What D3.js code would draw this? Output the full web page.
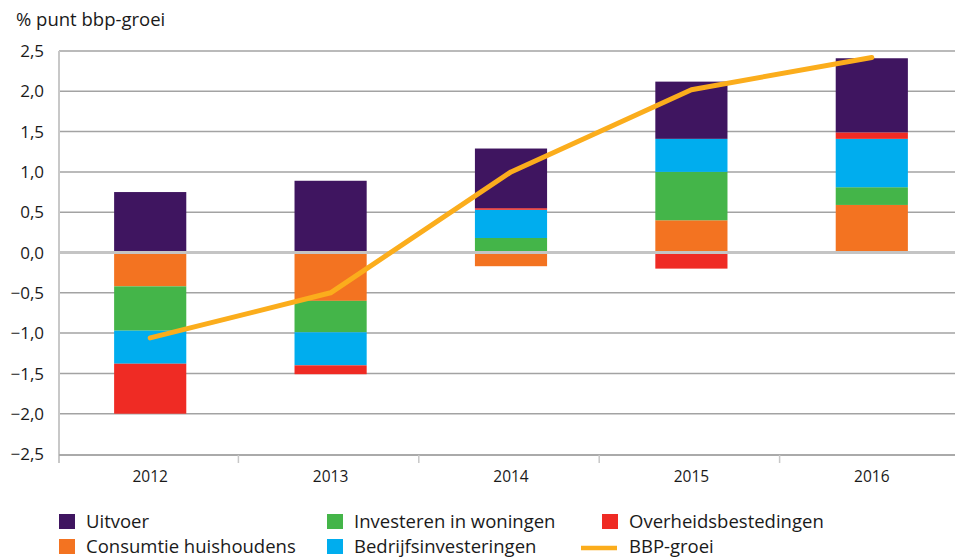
<!DOCTYPE html>
<html><head><meta charset="utf-8">
<script src="https://cdn.jsdelivr.net/npm/d3@7"></script>
<style>body{margin:0;background:#fff}svg{display:block;font-family:"Open Sans","Noto Sans",sans-serif}</style>
</head><body>
<svg id="chart" width="955" height="558"></svg>
<script>
const categories = ["2012","2013","2014","2015","2016"];
const uitvoer    = [0.75, 0.89, 0.74, 0.71, 0.92];
const consumptie = [-0.42, -0.60, -0.17, 0.40, 0.59];
const woningen   = [-0.55, -0.39, 0.18, 0.60, 0.22];
const bedrijfs   = [-0.41, -0.41, 0.35, 0.41, 0.60];
const overheid   = [-0.62, -0.11, 0.02, -0.20, 0.08];
const bbpGroei   = [-1.06, -0.50, 1.00, 2.02, 2.42];
const yTicks = [-2.5,-2,-1.5,-1,-0.5,0,0.5,1,1.5,2,2.5];

const series = [
  {key:"consumptie", name:"Consumtie huishoudens", values:consumptie, color:"#f37321"},
  {key:"woningen", name:"Investeren in woningen", values:woningen, color:"#44b549"},
  {key:"bedrijfs", name:"Bedrijfsinvesteringen", values:bedrijfs, color:"#00adee"},
  {key:"overheid", name:"Overheidsbestedingen", values:overheid, color:"#ef2b24"},
  {key:"uitvoer", name:"Uitvoer", values:uitvoer, color:"#3f1560"}
];
const lineColor = "#fbad1c";

const svg = d3.select("#chart");
const x = d3.scaleBand().domain(categories).range([60, 962]).padding(0);
const y = d3.scaleLinear().domain([-2.5, 2.5]).range([454, 51]);

const rows = categories.map((c,i)=>{const r={cat:c}; series.forEach(s=>r[s.key]=s.values[i]); return r;});
const stack = d3.stack().keys(series.map(s=>s.key)).offset(d3.stackOffsetDiverging)(rows);

// gridlines
svg.append("g").selectAll("line").data(yTicks.filter(t=>t!==0 && t!==-2.5)).join("line")
  .attr("x1",59).attr("x2",955).attr("y1",d=>y(d)).attr("y2",d=>y(d))
  .attr("stroke","#a3a3a3").attr("stroke-width",1.5);

// y labels
svg.append("g").selectAll("text").data(yTicks).join("text")
  .attr("x",44).attr("y",d=>y(d)).attr("dy","0.36em").attr("text-anchor","end")
  .attr("font-size",17).attr("fill","#1a1a1a")
  .text(d=>d3.format(".1f")(d).replace(".",","));

svg.append("text").attr("x",16).attr("y",26).attr("font-size",18.5).attr("fill","#1a1a1a").text("% punt bbp-groei");

// bars
const bw = x.bandwidth()*0.4;
series.forEach((s,si)=>{
  svg.append("g").selectAll("rect").data(stack[si]).join("rect")
    .attr("x",d=>x(d.data.cat)+x.bandwidth()/2-bw/2).attr("width",bw)
    .attr("y",d=>y(Math.max(d[0],d[1]))).attr("height",d=>Math.abs(y(d[0])-y(d[1])))
    .attr("fill",s.color);
});

// zero line
svg.append("line").attr("x1",59).attr("x2",955).attr("y1",y(0)).attr("y2",y(0))
  .attr("stroke","#c4c4c4").attr("stroke-width",3);

// axes
svg.append("line").attr("x1",59).attr("x2",59).attr("y1",y(2.5)).attr("y2",463)
  .attr("stroke","#c8c8c8").attr("stroke-width",2);
svg.append("line").attr("x1",59).attr("x2",955).attr("y1",y(-2.5)+1).attr("y2",y(-2.5)+1)
  .attr("stroke","#aaaaaa").attr("stroke-width",2);
svg.append("g").selectAll("line").data(categories.slice(1)).join("line")
  .attr("x1",d=>x(d)-2).attr("x2",d=>x(d)-2).attr("y1",455).attr("y2",463)
  .attr("stroke","#c8c8c8").attr("stroke-width",1.5);
svg.append("g").selectAll("text").data(categories).join("text")
  .attr("x",d=>x(d)+x.bandwidth()/2).attr("y",482).attr("text-anchor","middle")
  .attr("font-size",15.5).attr("fill","#1a1a1a").text(d=>d);

// line
const line = d3.line().x((d,i)=>x(categories[i])+x.bandwidth()/2).y(d=>y(d));
svg.append("path").datum(bbpGroei).attr("d",line).attr("fill","none")
  .attr("stroke",lineColor).attr("stroke-width",5).attr("stroke-linecap","round").attr("stroke-linejoin","round");

// legend
const legend = [
  {name:"Uitvoer", color:"#3f1560", x:59, y:514},
  {name:"Consumtie huishoudens", color:"#f37321", x:59, y:539},
  {name:"Investeren in woningen", color:"#44b549", x:327, y:514},
  {name:"Bedrijfsinvesteringen", color:"#00adee", x:327, y:539},
  {name:"Overheidsbestedingen", color:"#ef2b24", x:602, y:514},
  {name:"BBP-groei", color:lineColor, x:602, y:539, line:true}
];
const lg = svg.append("g").selectAll("g").data(legend).join("g");
lg.filter(d=>!d.line).append("rect").attr("x",d=>d.x).attr("y",d=>d.y).attr("width",16).attr("height",15).attr("fill",d=>d.color);
lg.filter(d=>d.line).append("line").attr("x1",581).attr("x2",617).attr("y1",d=>d.y+9).attr("y2",d=>d.y+9)
  .attr("stroke",d=>d.color).attr("stroke-width",4.5);
lg.append("text").attr("x",d=>d.x+27).attr("y",d=>d.y+14).attr("font-size",18.5).attr("fill","#1a1a1a").text(d=>d.name);
</script>
</body></html>
